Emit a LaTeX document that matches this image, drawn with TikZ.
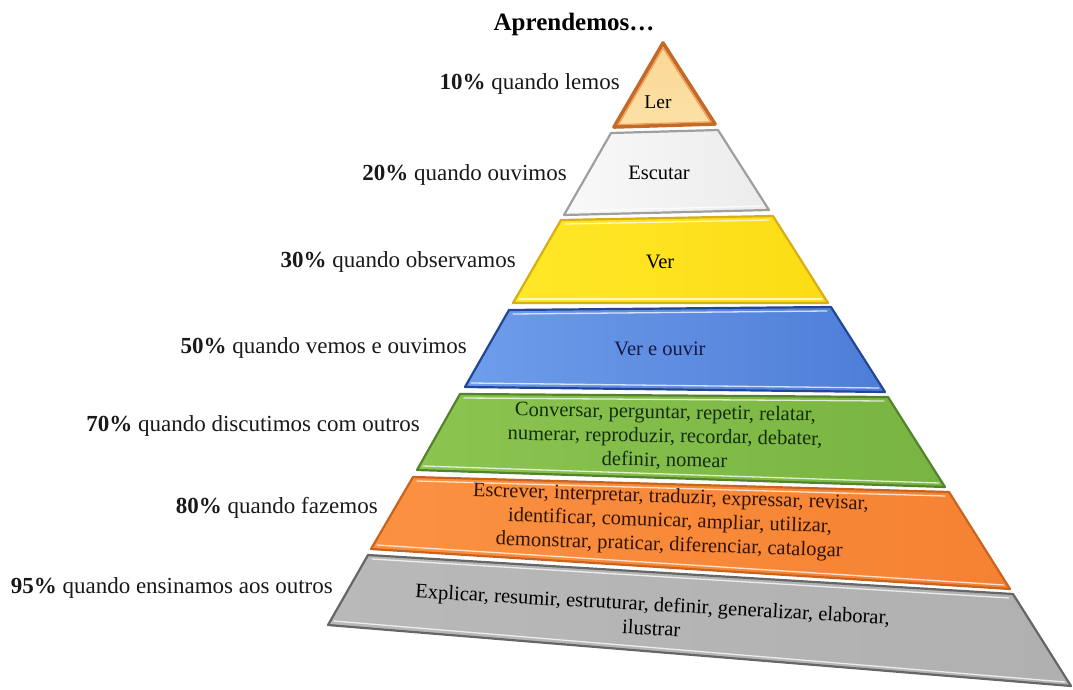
\documentclass[tikz,border=0pt]{standalone}
\usepackage{fontspec}
\setmainfont{Liberation Serif}
\usetikzlibrary{calc}
\definecolor{lerin}{RGB}{240,160,90}
\begin{document}
\begin{tikzpicture}[x=1pt,y=-1pt,
  lbl/.style={anchor=east, font=\fontsize{23}{27}\selectfont, inner sep=0pt, text=black!90},
  lay/.style={font=\fontsize{20.5}{24}\selectfont, align=center, inner sep=0pt},
  layer/.style={line width=2.2, line join=round},
  hl/.style={line width=1.3, white, opacity=0.75, line cap=round}]
\useasboundingbox (0,0) rectangle (1073,690);

% coordinates of the layers (top-left, top-right, bottom-right, bottom-left)
\coordinate (a0) at (663,43);
\coordinate (a3) at (715,124); \coordinate (a4) at (614,127);
\coordinate (b1) at (611,133); \coordinate (b2) at (718,130); \coordinate (b3) at (769,210); \coordinate (b4) at (564,215);
\coordinate (c1) at (561,220); \coordinate (c2) at (773,216); \coordinate (c3) at (828,303); \coordinate (c4) at (513,303);
\coordinate (d1) at (509,310); \coordinate (d2) at (831,307); \coordinate (d3) at (885,392); \coordinate (d4) at (465,387);
\coordinate (e1) at (460,394); \coordinate (e2) at (888,397); \coordinate (e3) at (945,487); \coordinate (e4) at (417,470);
\coordinate (f1) at (413,477); \coordinate (f2) at (949,492); \coordinate (f3) at (1010,589); \coordinate (f4) at (371,549);
\coordinate (g1) at (368,555); \coordinate (g2) at (1013,594); \coordinate (g3) at (1071,686); \coordinate (g4) at (328,625);
\coordinate (am) at (664,100);

% Ler
\shade[layer, draw={rgb,255:red,196;green,105;blue,40}, line width=3.6, top color={rgb,255:red,250;green,215;blue,150}, bottom color={rgb,255:red,252;green,225;blue,165}]
  (a0) -- (a3) -- (a4) -- cycle;
\draw[line width=1.2, draw=lerin, line join=round]
  ($(a0)!0.09!(am)$) -- ($(a3)!0.09!(am)$) -- ($(a4)!0.09!(am)$) -- cycle;
% Escutar
\shade[layer, draw=gray!75, left color=gray!5, right color=gray!15] (b1) -- (b2) -- (b3) -- (b4) -- cycle;
\draw[hl] ($(b4)+(6,-4)$) -- ($(b3)+(-6,-4)$);
% Ver
\shade[layer, draw={rgb,255:red,215;green,175;blue,20}, left color={rgb,255:red,255;green,232;blue,40}, right color={rgb,255:red,252;green,220;blue,20}] (c1) -- (c2) -- (c3) -- (c4) -- cycle;
\draw[hl] ($(c4)+(6,-4)$) -- ($(c3)+(-6,-4)$);
\draw[hl] ($(c1)+(4,4)$) -- ($(c2)+(-4,4)$);
% Ver e ouvir
\shade[layer, draw={rgb,255:red,35;green,70;blue,150}, left color={rgb,255:red,110;green,157;blue,235}, right color={rgb,255:red,78;green,125;blue,215}] (d1) -- (d2) -- (d3) -- (d4) -- cycle;
\draw[hl] ($(d4)+(6,-4)$) -- ($(d3)+(-6,-4)$);
\draw[hl] ($(d1)+(4,4)$) -- ($(d2)+(-4,4)$);
% green
\shade[layer, draw={rgb,255:red,85;green,130;blue,45}, left color={rgb,255:red,140;green,196;blue,80}, right color={rgb,255:red,120;green,180;blue,65}] (e1) -- (e2) -- (e3) -- (e4) -- cycle;
\draw[hl] ($(e4)+(6,-4)$) -- ($(e3)+(-6,-4)$);
\draw[hl] ($(e1)+(4,4)$) -- ($(e2)+(-4,4)$);
% orange
\shade[layer, draw={rgb,255:red,200;green,100;blue,30}, left color={rgb,255:red,250;green,145;blue,65}, right color={rgb,255:red,245;green,130;blue,50}] (f1) -- (f2) -- (f3) -- (f4) -- cycle;
\draw[hl] ($(f4)+(6,-4)$) -- ($(f3)+(-6,-4)$);
\draw[hl] ($(f1)+(4,4)$) -- ($(f2)+(-4,4)$);
% gray
\shade[layer, draw=gray!80!black, left color=gray!55, right color=gray!62] (g1) -- (g2) -- (g3) -- (g4) -- cycle;
\draw[hl] ($(g4)+(6,-4)$) -- ($(g3)+(-6,-4)$);
\draw[hl] ($(g1)+(4,4)$) -- ($(g2)+(-4,4)$);

% title
\node[font=\fontsize{25}{30}\selectfont\bfseries, inner sep=0pt] (title) at (574,24) {Aprendemos…};

% layer texts
\node[lay, font=\fontsize{19.5}{22}\selectfont] (tler) at (658,102) {Ler};
\node[lay] (tesc) at (659,173) {Escutar};
\node[lay] (tver) at (660,262) {Ver};
\node[lay, text={rgb,255:red,20;green,25;blue,70}] (tvo) at (660,349) {Ver e ouvir};
\node[lay, rotate=-1, text={rgb,255:red,20;green,45;blue,15}] (tgreen) at (665,437)
  {Conversar, perguntar, repetir, relatar,\\ numerar, reproduzir, recordar, debater,\\ definir, nomear};
\node[lay, rotate=-2, text={rgb,255:red,50;green,20;blue,5}] (torange) at (670,522)
  {Escrever, interpretar, traduzir, expressar, revisar,\\ identificar, comunicar, ampliar, utilizar,\\ demonstrar, praticar, diferenciar, catalogar};
\node[lay, rotate=-3.2] (tgray) at (652,616)
  {Explicar, resumir, estruturar, definir, generalizar, elaborar,\\ ilustrar};

% side labels
\node[lbl] (l10) at (620,84) {\textbf{10\%} quando lemos};
\node[lbl] (l20) at (567,175) {\textbf{20\%} quando ouvimos};
\node[lbl] (l30) at (516,262) {\textbf{30\%} quando observamos};
\node[lbl] (l50) at (467,348) {\textbf{50\%} quando vemos e ouvimos};
\node[lbl] (l70) at (420,426) {\textbf{70\%} quando discutimos com outros};
\node[lbl] (l80) at (378,508) {\textbf{80\%} quando fazemos};
\node[lbl] (l95) at (333,588) {\textbf{95\%} quando ensinamos aos outros};
\end{tikzpicture}
\end{document}
